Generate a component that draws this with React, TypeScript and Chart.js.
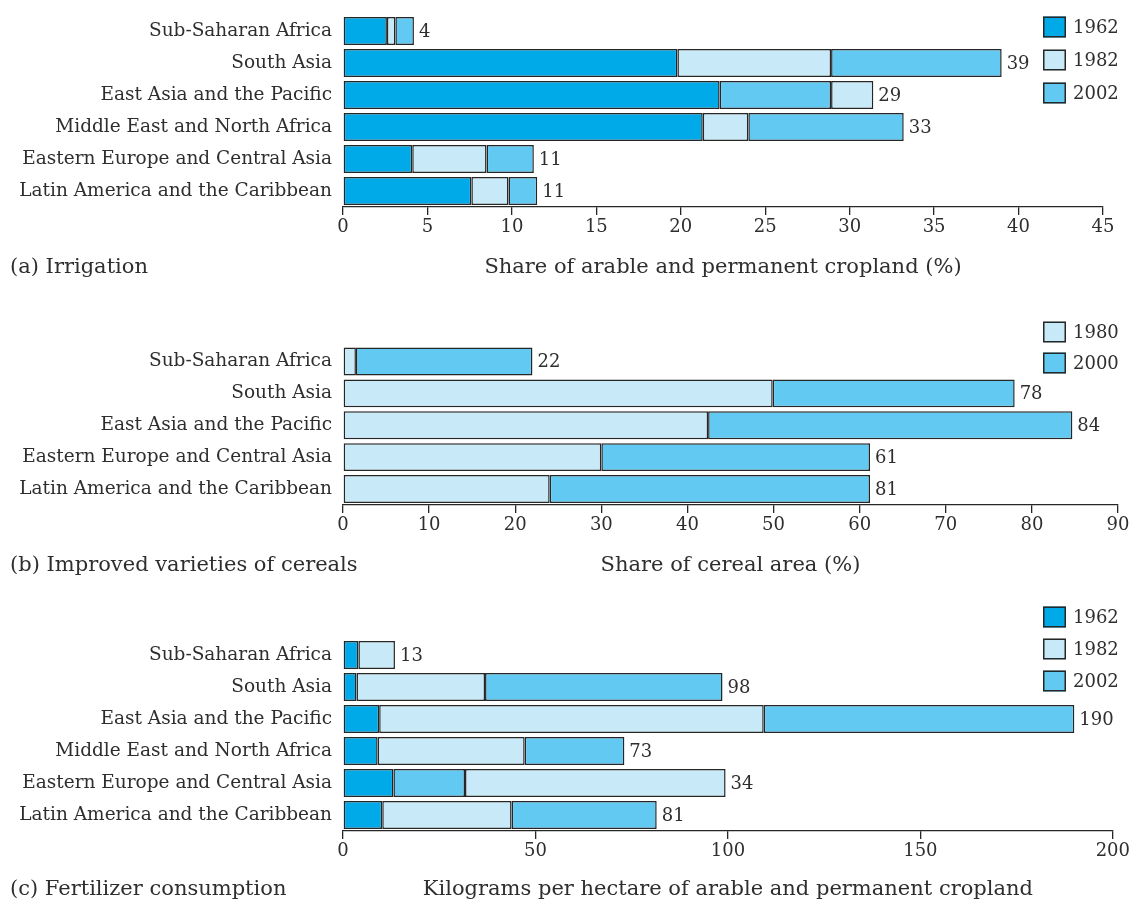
import React, { useEffect, useRef } from "react";
import { Chart, registerables } from "chart.js";

Chart.register(...registerables);

// ---------- data ----------
const regionsSix = [
  "Sub-Saharan Africa",
  "South Asia",
  "East Asia and the Pacific",
  "Middle East and North Africa",
  "Eastern Europe and Central Asia",
  "Latin America and the Caribbean",
];
const regionsFive = [
  "Sub-Saharan Africa",
  "South Asia",
  "East Asia and the Pacific",
  "Eastern Europe and Central Asia",
  "Latin America and the Caribbean",
];

const yearsIrr = ["1962", "1982", "2002"];
const irr1962 = [2.6, 19.8, 22.3, 21.3, 4.1, 7.6];
const irr1982 = [3.1, 28.9, 31.4, 24.0, 8.5, 9.8];
const irr2002 = [4.2, 39.0, 28.9, 33.2, 11.3, 11.5];
const irrLabels = ["4", "39", "29", "33", "11", "11"];
const irrTicks = { max: 45, step: 5 };

const yearsCer = ["1980", "2000"];
const cer1980 = [1.5, 49.9, 42.4, 30.0, 24.0];
const cer2000 = [22.0, 78.0, 84.7, 61.2, 61.2];
const cerLabels = ["22", "78", "84", "61", "81"];
const cerTicks = { max: 90, step: 10 };

const yearsFert = ["1962", "1982", "2002"];
const fert1962 = [4.0, 3.5, 9.4, 9.0, 13.1, 10.2];
const fert1982 = [13.5, 36.9, 109.3, 47.2, 99.4, 43.8];
const fert2002 = [13.5, 98.6, 190.0, 73.1, 31.7, 81.5];
const fertLabels = ["13", "98", "190", "73", "34", "81"];
const fertTicks = { max: 200, step: 50 };

// ---------- styles ----------
const FONT = "'DejaVu Serif', serif";
const TEXT = "#2e2e2e";
const EDGE = "#262626";
const DARK = "#00aae8";
const LIGHT = "#c8e9f8";
const MID = "#62caf2";
const W = 1132;
const CAT_SIZE = 18.5;
const TICK_SIZE = 18;
const VAL_SIZE = 18;
const TITLE_SIZE = 21;

type PanelCfg = {
  top: number;
  height: number;
  areaTop: number;
  areaBottom: number;
  areaRight: number;
  titleY: number;
  legendY: number;
  legendGap: number;
  categories: string[];
  years: string[];
  series: number[][];
  colors: string[];
  valueLabels: string[];
  ticks: { max: number; step: number };
  axisTitle: string;
  panelLabel: string;
};

const panels: PanelCfg[] = [
  {
    top: 0, height: 290, areaTop: 15, areaBottom: 207, areaRight: 1103,
    titleY: 268, legendY: 27, legendGap: 33,
    categories: regionsSix, years: yearsIrr,
    series: [irr1962, irr1982, irr2002], colors: [DARK, LIGHT, MID],
    valueLabels: irrLabels, ticks: irrTicks,
    axisTitle: "Share of arable and permanent cropland (%)",
    panelLabel: "(a) Irrigation",
  },
  {
    top: 290, height: 300, areaTop: 55.5, areaBottom: 215, areaRight: 1118,
    titleY: 276, legendY: 42, legendGap: 31,
    categories: regionsFive, years: yearsCer,
    series: [cer1980, cer2000], colors: [LIGHT, MID],
    valueLabels: cerLabels, ticks: cerTicks,
    axisTitle: "Share of cereal area (%)",
    panelLabel: "(b) Improved varieties of cereals",
  },
  {
    top: 590, height: 312, areaTop: 49, areaBottom: 241, areaRight: 1114,
    titleY: 300, legendY: 27, legendGap: 32,
    categories: regionsSix, years: yearsFert,
    series: [fert1962, fert1982, fert2002], colors: [DARK, LIGHT, MID],
    valueLabels: fertLabels, ticks: fertTicks,
    axisTitle: "Kilograms per hectare of arable and permanent cropland",
    panelLabel: "(c) Fertilizer consumption",
  },
];

// split overlapping bars into visible floating segments, smallest in front
function buildLayers(series: number[][], colors: string[]) {
  const k = series.length;
  const n = series[0].length;
  const layers = Array.from({ length: k }, () => ({ data: [] as number[][], bg: [] as string[] }));
  for (let i = 0; i < n; i++) {
    const order = series.map((_, j) => j).sort((a, b) => series[a][i] - series[b][i] || a - b);
    let prev = 0;
    order.forEach((j, L) => {
      const v = series[j][i];
      layers[L].data.push([prev, v]);
      layers[L].bg.push(colors[j]);
      prev = v;
    });
  }
  return layers;
}

function Panel({ cfg }: { cfg: PanelCfg }) {
  const ref = useRef<HTMLCanvasElement>(null);
  useEffect(() => {
    if (!ref.current) return;
    const layers = buildLayers(cfg.series, cfg.colors);
    const titleLH = TITLE_SIZE * 1.2;
    const titlePadBottom = cfg.height - cfg.titleY - titleLH / 2;

    const decor = {
      id: "decor",
      afterDatasetsDraw(chart: any) {
        const ctx = chart.ctx;
        const xs = chart.scales.x;
        const ys = chart.scales.y;
        ctx.save();
        ctx.fillStyle = TEXT;
        ctx.font = `${VAL_SIZE}px ${FONT}`;
        ctx.textBaseline = "middle";
        ctx.textAlign = "left";
        cfg.categories.forEach((_, i) => {
          const m = Math.max(...cfg.series.map((s) => s[i]));
          ctx.fillText(cfg.valueLabels[i], xs.getPixelForValue(m) + 5, ys.getPixelForValue(i) + 1);
        });
        // legend
        cfg.years.forEach((yr, j) => {
          const cy = cfg.legendY + j * cfg.legendGap;
          ctx.fillStyle = cfg.colors[j];
          ctx.fillRect(1043, cy - 10.5, 23, 21);
          ctx.strokeStyle = EDGE;
          ctx.lineWidth = 1.5;
          ctx.strokeRect(1043.75, cy - 9.75, 21.5, 19.5);
          ctx.fillStyle = TEXT;
          ctx.fillText(yr, 1073, cy + 1);
        });
        // panel label
        ctx.font = `${TITLE_SIZE}px ${FONT}`;
        ctx.fillText(cfg.panelLabel, 10, cfg.titleY);
        ctx.restore();
      },
    };

    const chart = new Chart(ref.current, {
      type: "bar",
      data: {
        labels: cfg.categories,
        datasets: layers.map((l, i) => ({
          label: "layer" + i,
          data: l.data as any,
          backgroundColor: l.bg,
          borderColor: EDGE,
          borderWidth: 1.5,
          borderSkipped: false,
          grouped: false,
          barPercentage: 0.875,
          categoryPercentage: 1,
        })),
      },
      options: {
        indexAxis: "y",
        responsive: false,
        maintainAspectRatio: false,
        animation: false,
        layout: { padding: { top: cfg.areaTop, right: W - cfg.areaRight, left: 0, bottom: 0 } },
        plugins: { legend: { display: false }, tooltip: { enabled: false } },
        scales: {
          y: {
            type: "category",
            grid: { display: false, drawTicks: false },
            border: { display: false },
            ticks: { font: { family: FONT, size: CAT_SIZE }, color: TEXT, padding: 11 },
            afterFit: (s: any) => {
              s.width = 343;
              s.paddingTop = 0;
              s.paddingBottom = 0;
            },
          },
          x: {
            type: "linear",
            position: "bottom",
            min: 0,
            max: cfg.ticks.max,
            grid: { drawOnChartArea: false, drawTicks: true, tickLength: 8, color: EDGE, lineWidth: 1.3 },
            border: { display: true, color: EDGE, width: 1.3 },
            ticks: { stepSize: cfg.ticks.step, font: { family: FONT, size: TICK_SIZE }, color: TEXT, padding: 2 },
            title: {
              display: true,
              text: cfg.axisTitle,
              font: { family: FONT, size: TITLE_SIZE },
              color: TEXT,
              padding: { top: 0, bottom: titlePadBottom },
            },
            afterFit: (s: any) => { s.height = cfg.height - cfg.areaBottom; },
          },
        },
      } as any,
      plugins: [decor],
    });
    return () => chart.destroy();
  }, [cfg]);

  return (
    <canvas
      ref={ref}
      width={W}
      height={cfg.height}
      style={{ position: "absolute", left: 0, top: cfg.top, width: W, height: cfg.height }}
    />
  );
}

export default function App() {
  return (
    <div style={{ position: "absolute", left: 0, top: 0, width: W, height: 902, background: "#fff" }}>
      {panels.map((p, i) => (
        <Panel key={i} cfg={p} />
      ))}
    </div>
  );
}
